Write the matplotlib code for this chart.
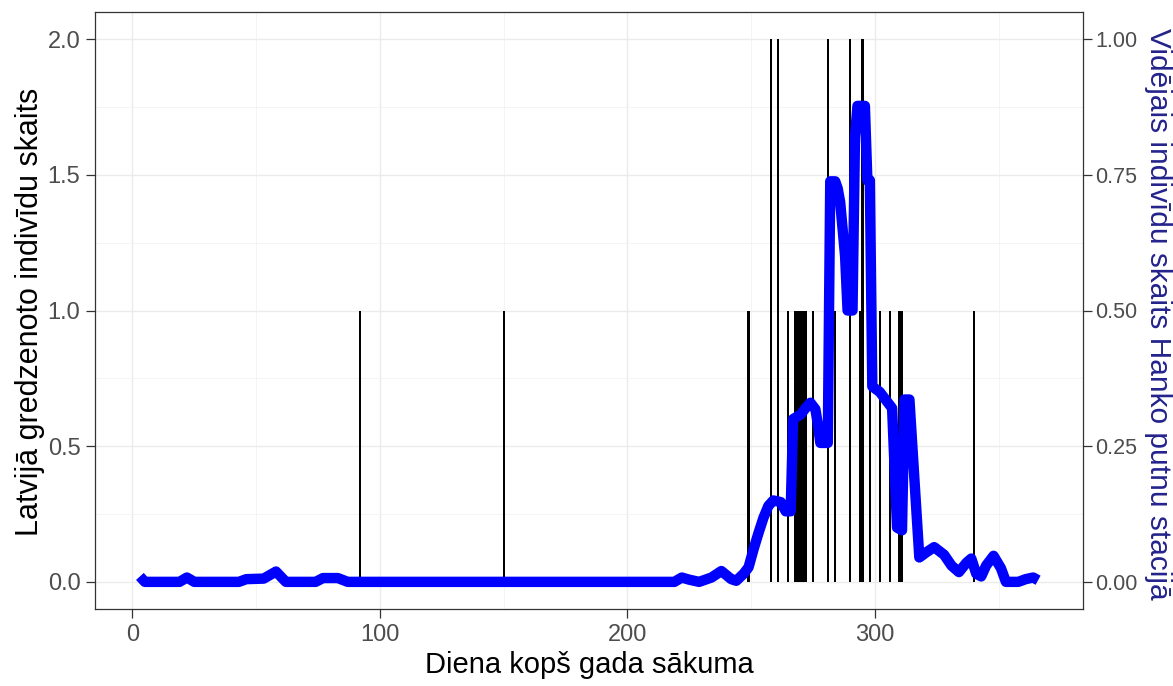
import numpy as np
import matplotlib.pyplot as plt

plt.rcParams['font.family'] = ['Liberation Sans', 'DejaVu Sans']

# birds ringed in Latvia, by day of year
ring_days = [92, 150, 249, 258, 261, 265, 268, 269, 270, 271, 272, 275,
             281, 284, 290, 294, 295, 298, 302, 306, 310, 311, 340]
ring_counts = [1, 1, 1, 2, 2, 1, 1, 1, 1, 1, 1, 1,
               2, 1, 2, 1, 2, 1, 1, 1, 1, 1, 1]

# mean daily count at Hanko bird station
hanko_days = [3, 5, 19, 22, 25, 43, 46, 53, 58, 62, 74, 77, 83, 87,
              219, 222, 225, 229, 234, 238, 242, 244, 247, 249, 251, 253,
              255, 257, 259, 262, 264, 266, 267, 270, 272, 274, 276, 277,
              278, 281, 282, 284, 285, 286, 287, 288, 289, 291, 292, 293,
              296, 297, 298, 299, 302, 305, 307, 309, 311, 312, 314, 316,
              318, 321, 324, 328, 331, 334, 337, 339, 341, 343, 345, 348,
              351, 353, 358, 361, 364, 366]
hanko_mean = [0.010, 0.0, 0.0, 0.008, 0.0, 0.0, 0.005, 0.006, 0.019, 0.0,
              0.0, 0.007, 0.007, 0.0,
              0.0, 0.008, 0.004, 0.0, 0.008, 0.020, 0.005, 0.002, 0.015,
              0.027, 0.060, 0.090,
              0.118, 0.140, 0.150, 0.147, 0.130, 0.130, 0.300, 0.308, 0.320,
              0.330, 0.318, 0.290,
              0.256, 0.256, 0.738, 0.738, 0.725, 0.700, 0.650, 0.600, 0.500,
              0.500, 0.820, 0.877,
              0.877, 0.740, 0.740, 0.360, 0.350, 0.332, 0.320, 0.100, 0.095,
              0.336, 0.336, 0.190,
              0.045, 0.055, 0.064, 0.050, 0.030, 0.018, 0.035, 0.043, 0.015,
              0.010, 0.030, 0.048,
              0.025, 0.0, 0.0, 0.005, 0.008, 0.003]

W, H = 1173, 686
fig = plt.figure(figsize=(W / 100, H / 100), dpi=100)
ax = fig.add_axes([95 / W, 1 - 609 / H, (1083 - 95) / W, (609 - 12) / H])

ax.bar(ring_days, ring_counts, width=0.9, color='black', zorder=2)

ax.set_xlim(-15.15, 384.15)
ax.set_ylim(-0.1, 2.1)
ax.set_xticks([0, 100, 200, 300])
ax.set_xticks([50, 150, 250, 350], minor=True)
ax.set_yticks([0, 0.5, 1.0, 1.5, 2.0])
ax.set_yticks([0.25, 0.75, 1.25, 1.75], minor=True)
ax.set_yticklabels(['0.0', '0.5', '1.0', '1.5', '2.0'])
ax.grid(which='major', color='#ebebeb', lw=1.0, zorder=0)
ax.grid(which='minor', color='#f2f2f2', lw=0.6, zorder=0)
ax.set_axisbelow(True)
for s in ax.spines.values():
    s.set_color('#333333')
    s.set_linewidth(0.9)
ax.tick_params(which='major', direction='out', length=6.5, width=0.9,
               color='#333333', labelsize=17, labelcolor='#4d4d4d', pad=4)
ax.tick_params(which='minor', length=0)

ax2 = ax.twinx()
ax2.plot(hanko_days, hanko_mean, color='blue', lw=7.5, solid_joinstyle='round',
         solid_capstyle='butt', zorder=3)
ax2.set_ylim(-0.05, 1.05)
ax2.set_yticks([0, 0.25, 0.5, 0.75, 1.0])
ax2.set_yticklabels(['0.00', '0.25', '0.50', '0.75', '1.00'])
for s in ax2.spines.values():
    s.set_visible(False)
ax2.tick_params(direction='out', length=6.5, width=0.9, color='#333333',
                labelsize=15.5, labelcolor='#4d4d4d', pad=2.5)

ax.set_xlabel('Diena kopš gada sākuma', fontsize=21, labelpad=4)
fig.text(30 / W, 1 - 312 / H, 'Latvijā gredzenoto indivīdu skaits',
         fontsize=22, rotation=90, ha='center', va='center')
fig.text(1158 / W, 1 - 314 / H, 'Vidējais indivīdu skaits Hanko putnu stacijā',
         fontsize=21.5, color='#23238c', rotation=-90, ha='center', va='center')

fig.savefig('out.png', dpi=100)
